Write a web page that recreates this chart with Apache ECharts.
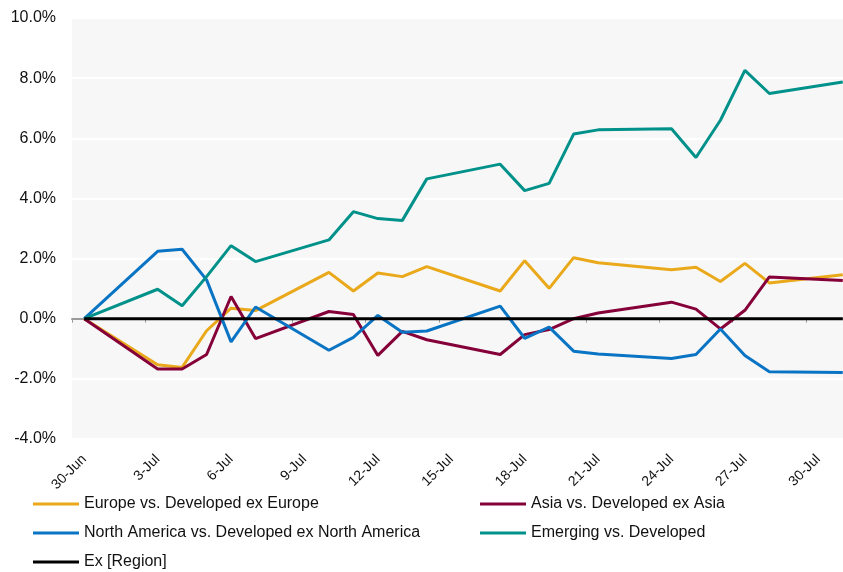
<!DOCTYPE html>
<html>
<head>
<meta charset="utf-8">
<script src="https://cdn.jsdelivr.net/npm/echarts@6/dist/echarts.min.js"></script>
<style>
html,body{margin:0;padding:0;background:#fff;}
#chart{width:843px;height:572px;}
</style>
</head>
<body>
<div id="chart"></div>
<script>
// Categories: every calendar day 30-Jun .. 31-Jul (weekends empty)
var dates = ['30-Jun','1-Jul','2-Jul','3-Jul','4-Jul','5-Jul','6-Jul','7-Jul','8-Jul','9-Jul','10-Jul','11-Jul','12-Jul','13-Jul','14-Jul','15-Jul','16-Jul','17-Jul','18-Jul','19-Jul','20-Jul','21-Jul','22-Jul','23-Jul','24-Jul','25-Jul','26-Jul','27-Jul','28-Jul','29-Jul','30-Jul','31-Jul'];

var europe = [0,null,null,-1.53,-1.62,-0.40,0.35,0.27,null,null,1.54,0.92,1.52,1.40,1.73,null,null,0.92,1.93,1.01,2.03,1.86,null,null,1.63,1.71,1.24,1.84,1.19,null,null,1.46];
var asia = [0,null,null,-1.67,-1.67,-1.19,0.74,-0.66,null,null,0.24,0.14,-1.22,-0.42,-0.70,null,null,-1.19,-0.53,-0.36,0.00,0.19,null,null,0.55,0.32,-0.34,0.28,1.39,null,null,1.27];
var northAmerica = [0,null,null,2.24,2.31,1.29,-0.77,0.39,null,null,-1.05,-0.62,0.11,-0.45,-0.41,null,null,0.42,-0.65,-0.28,-1.08,-1.17,null,null,-1.32,-1.19,-0.34,-1.22,-1.76,null,null,-1.79];
var emerging = [0,null,null,0.98,0.43,1.40,2.43,1.90,null,null,2.62,3.56,3.33,3.27,4.65,null,null,5.14,4.26,4.50,6.14,6.28,null,null,6.32,5.36,6.60,8.26,7.49,null,null,7.87];
var exRegion = [0,null,null,0,0,0,0,0,null,null,0,0,0,0,0,null,null,0,0,0,0,0,null,null,0,0,0,0,0,null,null,0];

var names = ['Europe vs. Developed ex Europe','Asia vs. Developed ex Asia','North America vs. Developed ex North America','Emerging vs. Developed','Ex [Region]'];
var colors = ['#EAA81B','#850038','#0A74C4','#00928A','#000000'];
var yTicks = {min:-4, max:10, interval:2};

var chart = echarts.init(document.getElementById('chart'), null, {renderer:'canvas'});

function mkSeries(i, data, z){
  return {
    name: names[i], type:'line', data:data, connectNulls:true,
    showSymbol:false, symbol:'none', z:z,
    lineStyle:{color:colors[i], width:3},
    itemStyle:{color:colors[i]},
    xAxisIndex:0, yAxisIndex:0, animation:false
  };
}
function mkLegend(i, left, top){
  return {
    data:[names[i]], left:left, top:top, orient:'horizontal',
    icon:'rect', itemWidth:46, itemHeight:3, padding:0,
    textStyle:{fontFamily:'Liberation Sans, Arial, sans-serif', fontSize:16, color:'#111'},
    selectedMode:false
  };
}

var option = {
  animation:false,
  backgroundColor:'#ffffff',
  grid:{left:72, right:-12, top:18, bottom:133, show:true, backgroundColor:'#f7f7f7', borderWidth:0,
        outerBoundsMode:'none', containLabel:false},
  legend:[
    mkLegend(0, 33, 496),
    mkLegend(1, 480, 496),
    mkLegend(2, 33, 525),
    mkLegend(3, 480, 525),
    mkLegend(4, 33, 554)
  ],
  xAxis:[
    {
      type:'category', data:dates, boundaryGap:true,
      axisLine:{show:true, onZero:true, lineStyle:{color:'#9a9a9a', width:2}},
      axisTick:{show:true, interval:2, length:4, lineStyle:{color:'#9a9a9a', width:1}},
      axisLabel:{show:false},
      splitLine:{show:false}
    },
    {
      type:'category', data:dates, boundaryGap:true, position:'bottom',
      axisLine:{show:false, onZero:false}, axisTick:{show:false},
      axisLabel:{show:true, interval:2, rotate:45, margin:18,
        fontFamily:'Liberation Sans, Arial, sans-serif', fontSize:14, color:'#111'},
      splitLine:{show:false}
    }
  ],
  yAxis:[{
    type:'value', min:yTicks.min, max:yTicks.max, interval:yTicks.interval,
    axisLine:{show:false}, axisTick:{show:false},
    axisLabel:{margin:16, fontFamily:'Liberation Sans, Arial, sans-serif', fontSize:16, color:'#111',
      formatter:function(v){return v.toFixed(1)+'%';}},
    splitLine:{show:true, lineStyle:{color:'#ffffff', width:2}}
  }],
  series:[
    mkSeries(0, europe, 2),
    mkSeries(1, asia, 2),
    mkSeries(2, northAmerica, 2),
    mkSeries(3, emerging, 2),
    mkSeries(4, exRegion, 3)
  ]
};
chart.setOption(option);
</script>
</body>
</html>
